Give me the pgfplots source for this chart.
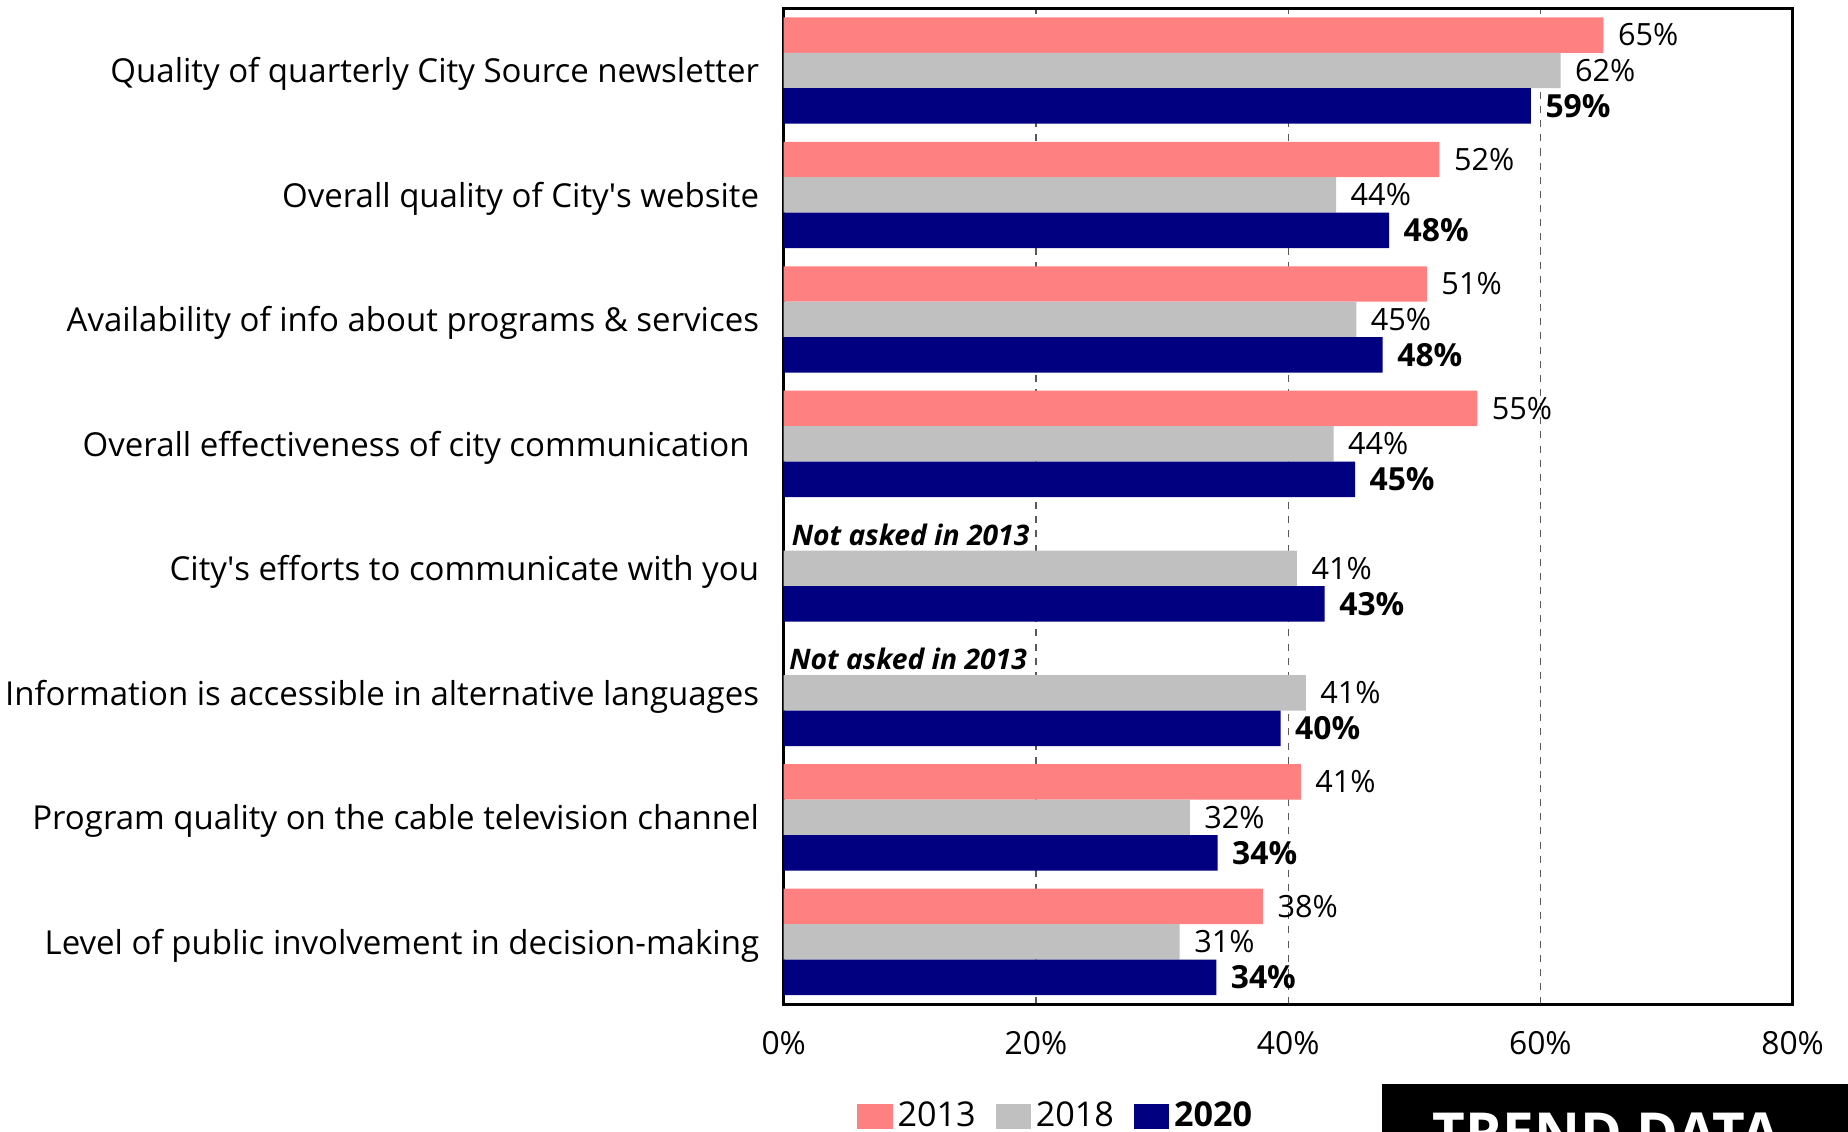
\documentclass[border=0pt]{standalone}
\usepackage{pgfplots}
\pgfplotsset{compat=1.18}
\usepackage{fontspec}
\setmainfont{Open Sans}
\definecolor{c13}{HTML}{FF8080}
\definecolor{c18}{HTML}{C0C0C0}
\definecolor{c20}{HTML}{000080}
\begin{document}
\begin{tikzpicture}
\useasboundingbox (-332.5pt,-54pt) rectangle (451.5pt,426pt);
\clip (-332.5pt,-54pt) rectangle (451.5pt,426pt);
\begin{axis}[
  at={(0pt,0pt)}, anchor=south west,
  width=428pt, height=422.5pt, scale only axis,
  xbar, xmin=0, xmax=80, ymin=-0.5, ymax=7.5,
  bar width=0.285,
  xtick={0,20,40,60,80},
  xticklabels={0\%,20\%,40\%,60\%,80\%},
  ytick={0,1,2,3,4,5,6,7},
  yticklabels={Level of public involvement in decision-making,
    Program quality on the cable television channel,
    Information is accessible in alternative languages,
    City\textquotesingle s efforts to communicate with you,
    Overall effectiveness of city communication\rule{4pt}{0pt},
    Availability of info about programs \& services,
    Overall quality of City\textquotesingle s website,
    Quality of quarterly City Source newsletter},
  tick style={draw=none},
  xmajorgrids, major grid style={dashed, gray!70!black, line width=0.5pt},
  axis line style={line width=1.2pt},
  xticklabel style={inner sep=0pt, yshift=-11.5pt, font=\fontsize{13.5}{16}\selectfont},
  yticklabel style={inner sep=0pt, xshift=-6pt, yshift=-1.5pt, font=\fontsize{14}{16}\selectfont},
  point meta=explicit symbolic,
  nodes near coords,
  nodes near coords align={horizontal},
  every node near coord/.append style={anchor=west, inner sep=0pt, xshift=6pt, font=\fontsize{13}{15}\selectfont},
  legend columns=-1,
  legend style={at={(0.271,-0.1124)}, anchor=center, draw=none, fill=none,
    font=\fontsize{14.5}{16}\selectfont,
    /tikz/every even column/.append style={column sep=6.5pt},
    inner sep=0pt},
  legend image code/.code={\fill[#1] (0pt,-5.5pt) rectangle (15pt,5pt);},
]
\addplot[fill=c13, draw=none, bar shift=0.285] coordinates {
  (65.0,7) [65\%]
  (52.0,6) [52\%]
  (51.0,5) [51\%]
  (55.0,4) [55\%]
  (41.0,1) [41\%]
  (38.0,0) [38\%]
};
\addplot[fill=c18, draw=none, bar shift=0] coordinates {
  (61.6,7) [62\%]
  (43.8,6) [44\%]
  (45.4,5) [45\%]
  (43.6,4) [44\%]
  (40.7,3) [41\%]
  (41.4,2) [41\%]
  (32.2,1) [32\%]
  (31.4,0) [31\%]
};
\addplot[fill=c20, draw=none, bar shift=-0.285,
  every node near coord/.append style={font=\fontsize{13.5}{15}\selectfont\bfseries}] coordinates {
  (59.25,7) [59\%]
  (48.0,6) [48\%]
  (47.5,5) [48\%]
  (45.3,4) [45\%]
  (42.9,3) [43\%]
  (39.4,2) [40\%]
  (34.4,1) [34\%]
  (34.3,0) [34\%]
};
\legend{2013,2018,\textbf{2020}}
\node[anchor=west, inner sep=0pt, font=\fontsize{12}{14}\selectfont\bfseries\itshape] at (axis cs:0.6,3.27) {Not asked in 2013};
\node[anchor=west, inner sep=0pt, font=\fontsize{12}{14}\selectfont\bfseries\itshape] at (axis cs:0.4,2.27) {Not asked in 2013};
\end{axis}
\fill[black] (254pt,-34pt) rectangle (470pt,-80pt);
\node[anchor=base west, inner sep=0pt, text=white, font=\fontsize{24}{28}\selectfont\bfseries] at (275pt,-63.5pt) {TREND DATA};
\end{tikzpicture}
\end{document}
